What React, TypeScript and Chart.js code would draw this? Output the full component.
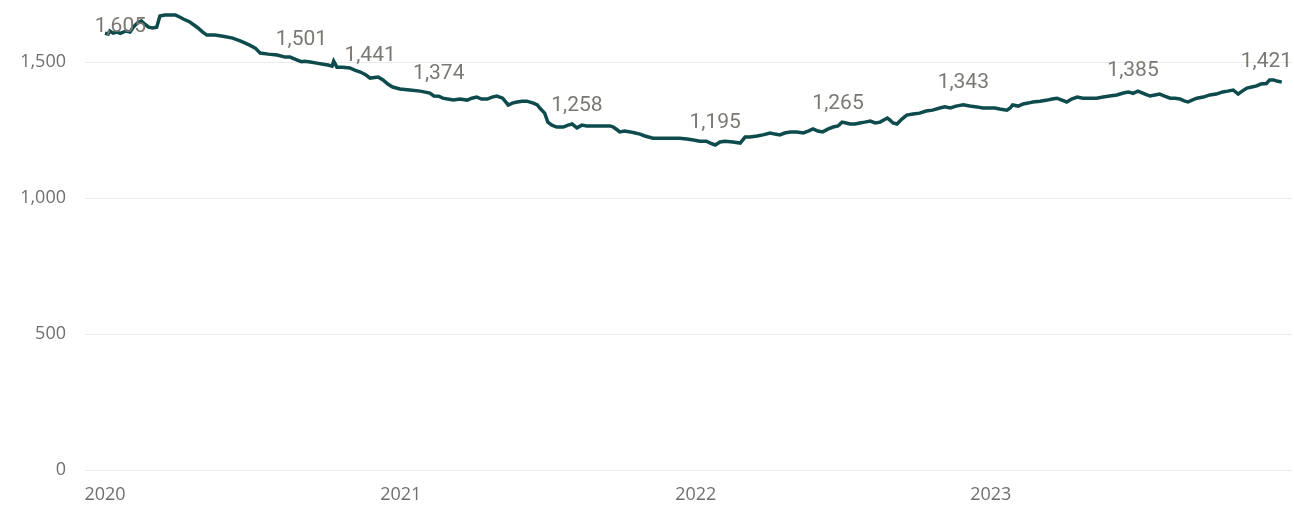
import React, { useEffect, useRef } from "react";
import { Chart, registerables } from "chart.js";

Chart.register(...registerables);

// x values are days since 2020-01-01
const yearTickDays = [0, 366, 731, 1096];
const yearTickLabels = ["2020", "2021", "2022", "2023"];
const yTickValues = [0, 500, 1000, 1500];

const days = [
  0, 4, 6, 10, 15, 19, 26, 31, 35, 40, 45, 49, 54, 59, 64, 68, 74, 80, 87, 90,
  97, 105, 114, 121, 126, 136, 146, 158, 168, 179, 186, 192, 202, 213, 223, 229, 238, 243, 247, 254,
  262, 270, 276, 281, 283, 287, 294, 303, 309, 316, 323, 328, 338, 344, 350, 356, 365, 377, 390, 402,
  407, 413, 418, 424, 431, 439, 448, 454, 460, 466, 473, 479, 485, 492, 499, 504, 510, 516, 522, 530,
  535, 538, 544, 548, 553, 559, 567, 573, 578, 584, 590, 596, 606, 616, 625, 629, 634, 637, 643, 650,
  656, 662, 668, 678, 687, 695, 703, 711, 720, 728, 736, 744, 749, 755, 761, 767, 777, 786, 792, 798,
  807, 814, 823, 829, 835, 841, 848, 856, 864, 870, 876, 882, 888, 895, 901, 907, 912, 917, 922, 928,
  934, 940, 947, 953, 959, 968, 971, 975, 980, 986, 992, 1000, 1008, 1016, 1024, 1033, 1039, 1046, 1053, 1062,
  1070, 1079, 1086, 1095, 1101, 1107, 1116, 1120, 1123, 1130, 1136, 1142, 1148, 1157, 1166, 1172, 1178, 1184, 1190, 1196,
  1203, 1210, 1219, 1227, 1235, 1243, 1252, 1260, 1266, 1272, 1278, 1287, 1293, 1299, 1305, 1311, 1318, 1324, 1330, 1336,
  1340, 1345, 1351, 1359, 1367, 1375, 1383, 1389, 1396, 1402, 1407, 1413, 1419, 1425, 1430, 1437, 1441, 1446, 1450, 1456,
];

const values = [
  1606, 1603, 1614, 1606, 1610, 1605, 1614, 1610, 1628, 1643, 1651, 1640, 1628, 1625, 1628, 1669, 1673, 1673, 1673, 1669,
  1658, 1647, 1628, 1610, 1599, 1599, 1595, 1588, 1577, 1562, 1551, 1533, 1529, 1526, 1518, 1518, 1507, 1501, 1503, 1500,
  1496, 1492, 1489, 1485, 1503, 1481, 1481, 1478, 1470, 1463, 1452, 1441, 1445, 1434, 1419, 1408, 1401, 1397, 1393, 1386,
  1375, 1374, 1367, 1364, 1360, 1364, 1360, 1367, 1371, 1364, 1364, 1371, 1375, 1367, 1342, 1349, 1353, 1356, 1356, 1349,
  1342, 1331, 1312, 1279, 1268, 1261, 1261, 1268, 1272, 1258, 1268, 1265, 1265, 1265, 1265, 1261, 1250, 1243, 1246, 1243,
  1239, 1235, 1228, 1220, 1220, 1220, 1220, 1220, 1217, 1213, 1209, 1209, 1202, 1195, 1206, 1209, 1206, 1202, 1224, 1224,
  1228, 1232, 1239, 1235, 1232, 1239, 1243, 1243, 1239, 1246, 1254, 1246, 1243, 1254, 1261, 1265, 1279, 1276, 1272, 1272,
  1276, 1279, 1283, 1276, 1279, 1294, 1287, 1276, 1272, 1290, 1305, 1309, 1312, 1320, 1323, 1331, 1335, 1331, 1338, 1343,
  1338, 1335, 1331, 1331, 1331, 1327, 1323, 1331, 1342, 1338, 1346, 1349, 1353, 1356, 1360, 1364, 1367, 1360, 1353, 1364,
  1371, 1367, 1367, 1367, 1371, 1375, 1379, 1386, 1390, 1385, 1393, 1382, 1375, 1379, 1382, 1375, 1367, 1367, 1364, 1356,
  1353, 1360, 1367, 1371, 1379, 1382, 1390, 1393, 1397, 1382, 1393, 1404, 1408, 1412, 1419, 1421, 1434, 1434, 1430, 1426,
];

// days whose values carry a data label
const labelDays = [19, 243, 328, 413, 584, 755, 907, 1062, 1272, 1437];

const LINE_COLOR = "#0d4b4d";
const LABEL_COLOR = "#7b7874";
const TICK_COLOR = "#6f6f6f";
const GRID_COLOR = "#ebebeb";

const dataLabelPlugin = {
  id: "dataLabels",
  afterDatasetsDraw(chart: any) {
    const ctx = chart.ctx;
    const xs = chart.scales.x;
    const ys = chart.scales.y;
    ctx.save();
    ctx.font = "400 21px Roboto, 'DejaVu Sans', sans-serif";
    ctx.fillStyle = LABEL_COLOR;
    ctx.textAlign = "center";
    ctx.textBaseline = "alphabetic";
    labelDays.forEach((d) => {
      const i = days.indexOf(d);
      if (i < 0) return;
      const v = values[i];
      const px = xs.getPixelForValue(d);
      const py = ys.getPixelForValue(v);
      let base = py - 17;
      if (base - 15 < chart.chartArea.top + 4) base = py - 1;
      ctx.fillText(v.toLocaleString("en-US"), px, base);
    });
    ctx.restore();
  },
};

export default function App() {
  const ref = useRef<HTMLCanvasElement | null>(null);

  useEffect(() => {
    document.body.style.margin = "0";
    if (!ref.current) return;
    const chart = new Chart(ref.current, {
      type: "line",
      data: {
        datasets: [
          {
            data: days.map((d, i) => ({ x: d, y: values[i] })),
            borderColor: LINE_COLOR,
            borderWidth: 3.5,
            pointRadius: 0,
            tension: 0,
            fill: false,
            clip: false,
          },
        ],
      },
      options: {
        animation: false,
        responsive: false,
        devicePixelRatio: 1,
        layout: { padding: { left: 0, right: 2, top: 0, bottom: 0 } },
        plugins: {
          legend: { display: false },
          tooltip: { enabled: false },
        },
        scales: {
          x: {
            type: "linear",
            min: -24.7,
            max: 1468.7,
            grid: { display: false },
            border: { display: false },
            afterBuildTicks: (s: any) => {
              s.ticks = yearTickDays.map((v) => ({ value: v }));
            },
            afterFit: (s: any) => {
              s.height = 35;
              s.paddingLeft = 0;
              s.paddingRight = 0;
            },
            ticks: {
              autoSkip: false,
              maxRotation: 0,
              padding: 6,
              color: TICK_COLOR,
              font: { family: "'Open Sans', sans-serif", size: 18 },
              callback: (v: any) => {
                const k = yearTickDays.indexOf(Number(v));
                return k >= 0 ? yearTickLabels[k] : "";
              },
            },
          },
          y: {
            min: 0,
            max: 1728,
            grid: { color: GRID_COLOR, lineWidth: 1, drawTicks: false },
            border: { display: false },
            afterBuildTicks: (s: any) => {
              s.ticks = yTickValues.map((v) => ({ value: v }));
            },
            afterFit: (s: any) => {
              s.width = 85;
              s.paddingTop = 0;
              s.paddingBottom = 0;
            },
            ticks: {
              padding: 19,
              color: TICK_COLOR,
              font: { family: "'Open Sans', sans-serif", size: 18 },
              callback: (v: any) => Number(v).toLocaleString("en-US"),
            },
          },
        },
      },
      plugins: [dataLabelPlugin],
    });
    return () => chart.destroy();
  }, []);

  return (
    <div style={{ width: 1294, height: 505 }}>
      <canvas ref={ref} width={1294} height={505} style={{ display: "block" }} />
    </div>
  );
}
